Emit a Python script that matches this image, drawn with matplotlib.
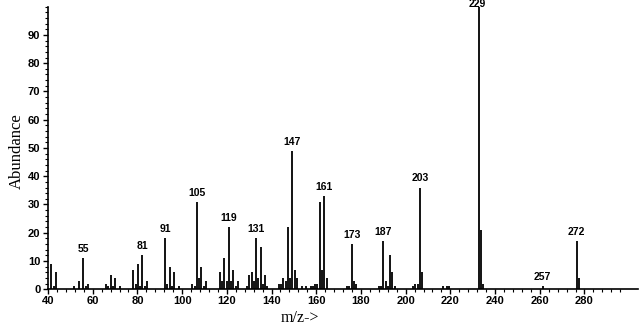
import matplotlib
matplotlib.use("Agg")
import matplotlib.pyplot as plt
from matplotlib.ticker import MultipleLocator, FixedLocator

# m/z and relative abundance
mz = [41, 42, 43, 51, 53, 55, 56, 57, 65, 66, 67, 68, 69, 71,
      77, 78, 79, 80, 81, 82, 83, 91, 92, 93, 94, 95, 97,
      103, 104, 105, 106, 107, 108, 109, 115, 116, 117, 118, 119, 120, 121, 122, 123,
      127, 128, 129, 130, 131, 132, 133, 134, 135, 136,
      141, 142, 143, 144, 145, 146, 147, 148, 149, 151,
      153, 155, 156, 157, 158, 159, 160, 161, 162,
      171, 172, 173, 174, 175, 185, 186, 187, 188, 189, 190, 191, 192,
      200, 201, 202, 203, 204, 213, 215, 216, 229, 230, 231, 257, 272, 273]
abundance = [9, 1, 6, 1, 3, 11, 1, 2, 2, 1, 5, 1, 4, 1,
             7, 2, 9, 1, 12, 1, 3, 18, 2, 8, 1, 6, 1,
             2, 1, 31, 4, 8, 1, 3, 6, 3, 11, 3, 22, 3, 7, 1, 3,
             1, 5, 6, 3, 18, 4, 15, 2, 5, 1,
             2, 2, 4, 3, 22, 4, 49, 7, 4, 1,
             1, 1, 1, 2, 2, 31, 7, 33, 4,
             1, 1, 16, 3, 2, 1, 1, 17, 3, 1, 12, 6, 1,
             1, 2, 2, 36, 6, 1, 1, 1, 100, 21, 2, 1, 17, 4]

# labelled peaks (label text, m/z of the bar it sits on)
peak_labels = ["55", "81", "91", "105", "119", "131", "147", "161",
               "173", "187", "203", "229", "257", "272"]
peak_mz = [55, 81, 91, 105, 119, 131, 147, 161, 173, 187, 203, 229, 257, 272]

# x tick labels (the printed scale is slightly off the bar positions)
xtick_labels = [40, 60, 80, 100, 120, 140, 160, 180, 200, 220, 240, 260, 280]
ytick_values = [0, 10, 20, 30, 40, 50, 60, 70, 80, 90]

fig = plt.figure(figsize=(6.4, 3.26), dpi=100)
ax = fig.add_axes([0.075, 0.1126, 0.922, 0.867])

ax.vlines(mz, 0, abundance, color="black", linewidth=1.3)

ab = dict(zip(mz, abundance))
for lab, m in zip(peak_labels, peak_mz):
    # the base peak label sits on the very top edge, overlapping the bar tip
    off = 3 if ab[m] < 95 else -1.5
    ax.annotate(lab, (m, ab[m]), xytext=(-1 if ab[m] >= 95 else 0, off),
                textcoords="offset points",
                ha="center", va="bottom", fontsize=7.5, fontweight="bold",
                family="Liberation Sans", annotation_clip=False)

ax.set_xlim(39.5, 299)
ax.set_ylim(0, 100)

# tick positions: scale printed on the original runs a touch narrower than the bars
tick_pos = [39.5 + (v - 40) * 0.983 for v in xtick_labels]
ax.xaxis.set_major_locator(FixedLocator(tick_pos))
ax.set_xticklabels([str(v) for v in xtick_labels])
minor = []
for p in tick_pos + [tick_pos[-1] + 19.66]:
    for k in range(1, 5):
        minor.append(p + k * 19.66 / 5)
ax.xaxis.set_minor_locator(FixedLocator([m for m in minor if m < 299]))

ax.set_yticks(ytick_values)
ax.yaxis.set_minor_locator(MultipleLocator(2))

for side in ["top", "right"]:
    ax.spines[side].set_visible(False)
for side in ["left", "bottom"]:
    ax.spines[side].set_linewidth(1.2)

ax.tick_params(axis="both", which="major", length=3.5, width=1.0, pad=2,
               labelsize=8)
ax.tick_params(axis="x", which="major", pad=1)
ax.tick_params(axis="both", which="minor", length=2, width=0.8)
for t in ax.get_xticklabels() + ax.get_yticklabels():
    t.set_fontweight("bold")
    t.set_family("Liberation Sans")

ax.set_ylabel("Abundance", family="Liberation Serif", fontsize=12)
ax.yaxis.label.set_va("center")
ax.yaxis.set_label_coords(-0.052, 0.49)
ax.set_xlabel("m/z->", family="Liberation Serif", fontsize=11.5)
ax.xaxis.label.set_va("center")
ax.xaxis.set_label_coords(0.427, -0.1)

fig.savefig("out.png", dpi=100)
